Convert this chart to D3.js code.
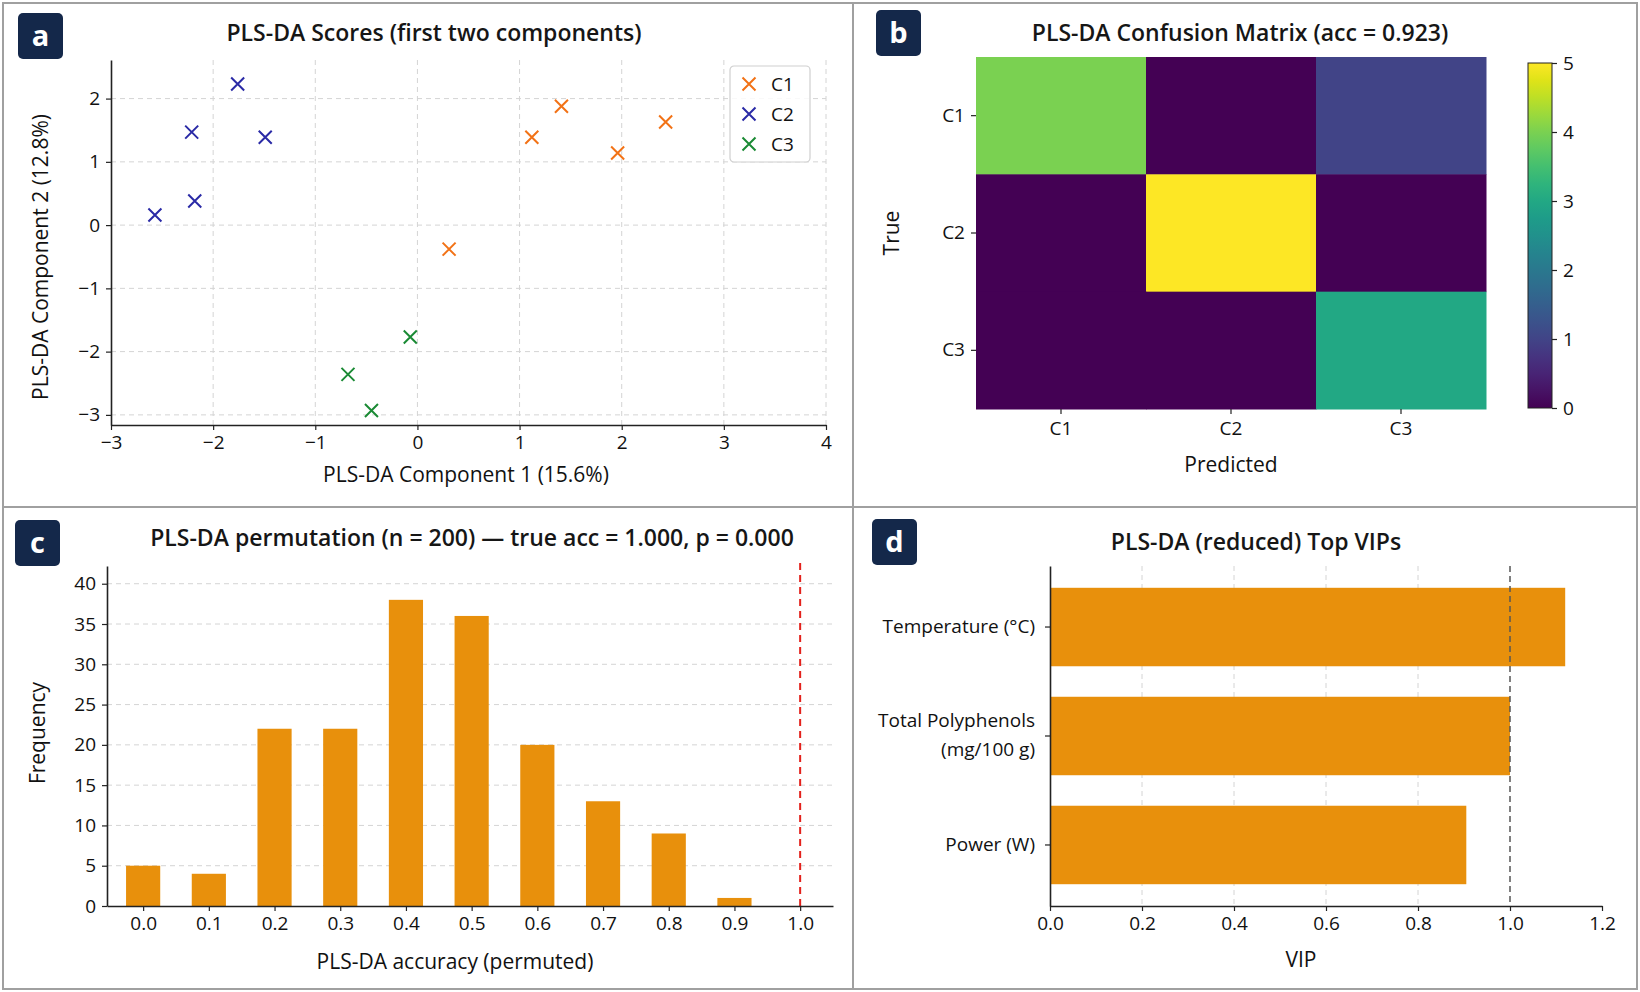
<!DOCTYPE html>
<html>
<head>
<meta charset="utf-8">
<script src="https://cdn.jsdelivr.net/npm/d3@7"></script>
<style>
  body { margin: 0; background: #fff; }
  svg { display: block; font-family: "Open Sans", sans-serif; }
</style>
</head>
<body>
<div id="vis"></div>
<script>
// ---- data ----
// a: PLS-DA scores
var classNames = ["C1", "C2", "C3"];
var classColors = ["#f27216", "#2a2aa6", "#1a8a34"];
var c1X = [1.41, 1.12, 2.43, 1.96, 0.31],
    c1Y = [1.88, 1.39, 1.63, 1.14, -0.38];
var c2X = [-1.76, -2.21, -1.49, -2.18, -2.57],
    c2Y = [2.23, 1.47, 1.39, 0.38, 0.16];
var c3X = [-0.07, -0.68, -0.45],
    c3Y = [-1.77, -2.36, -2.93];

// b: confusion matrix (rows = true, cols = predicted)
var cmLabels = ["C1", "C2", "C3"];
var cmRows = [[4, 0, 1], [0, 5, 0], [0, 0, 3]];

// c: permutation histogram
var permBins = [0.0, 0.1, 0.2, 0.3, 0.4, 0.5, 0.6, 0.7, 0.8, 0.9];
var permCounts = [5, 4, 22, 22, 38, 36, 20, 13, 9, 1];
var trueAcc = 1.0;

// d: VIP
var vipNames = ["Temperature (°C)", "Total Polyphenols\n(mg/100 g)", "Power (W)"];
var vipValues = [1.12, 1.0, 0.905];
var vipThreshold = 1.0;

var barOrange = "#e8900c";
var tickFont = 19, labelFont = 21, titleFont = 23;

var svg = d3.select("#vis").append("svg").attr("width", 1640).attr("height", 992);

// frame + dividers
svg.append("rect").attr("x", 3).attr("y", 3).attr("width", 1634).attr("height", 986)
   .attr("fill", "#fff").attr("stroke", "#a0a0a0").attr("stroke-width", 2);
svg.append("line").attr("x1", 853).attr("x2", 853).attr("y1", 3).attr("y2", 989)
   .attr("stroke", "#a0a0a0").attr("stroke-width", 2);
svg.append("line").attr("x1", 3).attr("x2", 1637).attr("y1", 507).attr("y2", 507)
   .attr("stroke", "#a0a0a0").attr("stroke-width", 2);

function badge(x, y, letter) {
  svg.append("rect").attr("x", x).attr("y", y).attr("width", 45).attr("height", 46)
     .attr("rx", 5).attr("fill", "#14284a");
  svg.append("text").attr("x", x + 22.5).attr("y", y + 33).attr("text-anchor", "middle")
     .attr("fill", "#fff").attr("font-size", 29).attr("font-weight", 700).text(letter);
}

function title(x, y, s) {
  svg.append("text").attr("x", x).attr("y", y).attr("text-anchor", "middle")
     .attr("font-size", titleFont).attr("font-weight", 600).attr("fill", "#161616").text(s);
}

function styleAxis(g, keepDomain) {
  if (keepDomain) g.select(".domain").attr("stroke", "#222").attr("stroke-width", 1.6);
  else g.select(".domain").remove();
  g.selectAll(".tick line").attr("stroke", "#222").attr("stroke-width", 1.2);
  g.selectAll(".tick text").attr("font-size", tickFont).attr("fill", "#111")
   .attr("font-family", "Open Sans, sans-serif");
}

function axisLabel(x, y, s, rotate) {
  var t = svg.append("text").attr("text-anchor", "middle").attr("font-size", labelFont)
     .attr("fill", "#111").text(s);
  if (rotate) t.attr("transform", "translate(" + x + "," + y + ") rotate(-90)");
  else t.attr("x", x).attr("y", y);
}

var gridColor = "#d4d4d4", gridDash = "5,4";

// ================= panel a =================
badge(18, 13, "a");
title(434, 41, "PLS-DA Scores (first two components)");

var xA = d3.scaleLinear().domain([-3, 4]).range([111, 826]);
var yA = d3.scaleLinear().domain([-3.16, 2.61]).range([425, 60]);
var gA = svg.append("g");

gA.selectAll(".vg").data(xA.ticks(7).filter(function (d) { return d > -3; })).join("line")
  .attr("x1", xA).attr("x2", xA).attr("y1", 60).attr("y2", 425)
  .attr("stroke", gridColor).attr("stroke-dasharray", gridDash);
gA.selectAll(".hg").data([-3, -2, -1, 0, 1, 2]).join("line")
  .attr("x1", 111).attr("x2", 826).attr("y1", yA).attr("y2", yA)
  .attr("stroke", gridColor).attr("stroke-dasharray", gridDash);

gA.append("g").attr("transform", "translate(0,425)")
  .call(d3.axisBottom(xA).ticks(7).tickFormat(d3.format("d")).tickSize(5).tickSizeOuter(0).tickPadding(6))
  .call(styleAxis, true);
gA.append("g").attr("transform", "translate(111,0)")
  .call(d3.axisLeft(yA).tickValues([-3, -2, -1, 0, 1, 2]).tickFormat(d3.format("d"))
        .tickSize(5).tickSizeOuter(0).tickPadding(6))
  .call(styleAxis, true);

var xMark = "M-6.5,-6.5L6.5,6.5M-6.5,6.5L6.5,-6.5";
[[c1X, c1Y], [c2X, c2Y], [c3X, c3Y]].forEach(function (s, i) {
  gA.selectAll(".m" + i).data(s[0]).join("path")
    .attr("d", xMark)
    .attr("transform", function (d, j) { return "translate(" + xA(d) + "," + yA(s[1][j]) + ")"; })
    .attr("stroke", classColors[i]).attr("stroke-width", 2).attr("fill", "none");
});

var leg = gA.append("g").attr("transform", "translate(730,66)");
leg.append("rect").attr("width", 80).attr("height", 96).attr("rx", 4)
   .attr("fill", "#fff").attr("fill-opacity", 0.85).attr("stroke", "#cfcfcf").attr("stroke-width", 1.2);
classNames.forEach(function (c, i) {
  leg.append("path").attr("d", xMark).attr("transform", "translate(19," + (18 + i * 30) + ")")
     .attr("stroke", classColors[i]).attr("stroke-width", 2);
  leg.append("text").attr("x", 41).attr("y", 18 + i * 30).attr("dy", "0.35em")
     .attr("font-size", tickFont).attr("fill", "#111").text(c);
});

axisLabel(466, 482, "PLS-DA Component 1 (15.6%)");
axisLabel(48, 257, "PLS-DA Component 2 (12.8%)", true);

// ================= panel b =================
badge(876, 10, "b");
title(1240, 41, "PLS-DA Confusion Matrix (acc = 0.923)");

var xB = d3.scaleBand().domain(cmLabels).range([976, 1486]);
var yB = d3.scaleBand().domain(cmLabels).range([57, 409]);
var colB = d3.scaleSequential(d3.interpolateViridis).domain([0, 5]);
var gB = svg.append("g");

var cells = [];
cmRows.forEach(function (row, r) {
  row.forEach(function (v, c) { cells.push({ t: cmLabels[r], p: cmLabels[c], v: v }); });
});
gB.selectAll("rect.cell").data(cells).join("rect").attr("class", "cell")
  .attr("x", function (d) { return xB(d.p); }).attr("y", function (d) { return yB(d.t); })
  .attr("width", xB.bandwidth() + 0.5).attr("height", yB.bandwidth() + 0.5)
  .attr("fill", function (d) { return colB(d.v); });

gB.append("g").attr("transform", "translate(976,0)")
  .call(d3.axisLeft(yB).tickSize(5).tickPadding(6)).call(styleAxis, false);
gB.append("g").attr("transform", "translate(0,409)")
  .call(d3.axisBottom(xB).tickSize(5).tickPadding(8)).call(styleAxis, false);

axisLabel(1231, 472, "Predicted");
axisLabel(899, 233, "True", true);

// colorbar
var yCb = d3.scaleLinear().domain([0, 5]).range([408, 63]);
var grad = svg.append("defs").append("linearGradient").attr("id", "vir")
  .attr("x1", 0).attr("y1", 1).attr("x2", 0).attr("y2", 0);
d3.range(0, 1.0001, 0.05).forEach(function (t) {
  grad.append("stop").attr("offset", t).attr("stop-color", d3.interpolateViridis(t));
});
gB.append("rect").attr("x", 1528).attr("y", 63).attr("width", 24).attr("height", 345)
  .attr("fill", "url(#vir)").attr("stroke", "#222").attr("stroke-width", 1);
gB.append("g").attr("transform", "translate(1552,0)")
  .call(d3.axisRight(yCb).ticks(5).tickSize(5).tickPadding(6)).call(styleAxis, false);

// ================= panel c =================
badge(15, 520, "c");
title(472, 546, "PLS-DA permutation (n = 200) \u2014 true acc = 1.000, p = 0.000");

var xC = d3.scaleLinear().domain([-0.055, 1.05]).range([107, 833]);
var yC = d3.scaleLinear().domain([0, 42.2]).range([906, 566]);
var gC = svg.append("g");

gC.selectAll(".hg").data(d3.range(5, 41, 5)).join("line")
  .attr("x1", 107).attr("x2", 833).attr("y1", yC).attr("y2", yC)
  .attr("stroke", gridColor).attr("stroke-dasharray", gridDash);

var binW = 0.052;
gC.selectAll("rect.bar").data(permBins).join("rect").attr("class", "bar")
  .attr("x", function (d) { return xC(d - binW / 2); })
  .attr("width", xC(binW) - xC(0))
  .attr("y", function (d, i) { return yC(permCounts[i]); })
  .attr("height", function (d, i) { return yC(0) - yC(permCounts[i]); })
  .attr("fill", barOrange);

gC.append("line").attr("x1", xC(trueAcc)).attr("x2", xC(trueAcc)).attr("y1", 563).attr("y2", 906)
  .attr("stroke", "#e3211c").attr("stroke-width", 2).attr("stroke-dasharray", "7,5");

gC.append("g").attr("transform", "translate(0,906)")
  .call(d3.axisBottom(xC).tickValues(d3.range(0, 1.01, 0.1)).tickFormat(d3.format(".1f"))
        .tickSize(5).tickSizeOuter(0).tickPadding(6))
  .call(styleAxis, true);
gC.append("g").attr("transform", "translate(107,0)")
  .call(d3.axisLeft(yC).tickValues(d3.range(0, 41, 5)).tickSize(5).tickSizeOuter(0).tickPadding(6))
  .call(styleAxis, true);

axisLabel(455, 969, "PLS-DA accuracy (permuted)");
axisLabel(45, 733, "Frequency", true);

// ================= panel d =================
badge(872, 519, "d");
title(1256, 550, "PLS-DA (reduced) Top VIPs");

var xD = d3.scaleLinear().domain([0, 1.2]).range([1050, 1602]);
var yD = d3.scaleBand().domain(vipNames).range([566, 906]).paddingInner(0.28).paddingOuter(0.2);
var gD = svg.append("g");

gD.selectAll(".vg").data([0.2, 0.4, 0.6, 0.8]).join("line")
  .attr("x1", xD).attr("x2", xD).attr("y1", 566).attr("y2", 906)
  .attr("stroke", gridColor).attr("stroke-dasharray", gridDash);

gD.selectAll("rect.bar").data(vipNames).join("rect").attr("class", "bar")
  .attr("x", xD(0)).attr("y", function (d) { return yD(d); })
  .attr("width", function (d, i) { return xD(vipValues[i]) - xD(0); })
  .attr("height", yD.bandwidth())
  .attr("fill", barOrange);

gD.append("line").attr("x1", xD(vipThreshold)).attr("x2", xD(vipThreshold)).attr("y1", 566).attr("y2", 906)
  .attr("stroke", "#555").attr("stroke-width", 1.5).attr("stroke-dasharray", "6,4");

gD.append("g").attr("transform", "translate(0,906)")
  .call(d3.axisBottom(xD).tickValues(d3.range(0, 1.21, 0.2)).tickFormat(d3.format(".1f"))
        .tickSize(5).tickSizeOuter(0).tickPadding(6))
  .call(styleAxis, true);
var yAxD = gD.append("g").attr("transform", "translate(1050,0)")
  .call(d3.axisLeft(yD).tickSize(5).tickSizeOuter(0).tickPadding(10))
  .call(styleAxis, true);
// split two-line category labels
yAxD.selectAll(".tick text").each(function (d) {
  var lines = d.split("\n");
  if (lines.length < 2) return;
  var t = d3.select(this).text(null).attr("dy", null);
  lines.forEach(function (l, k) {
    t.append("tspan").attr("x", -15).attr("dy", k === 0 ? "-0.45em" : "1.5em").text(l);
  });
});

axisLabel(1301, 967, "VIP");
</script>
</body>
</html>
